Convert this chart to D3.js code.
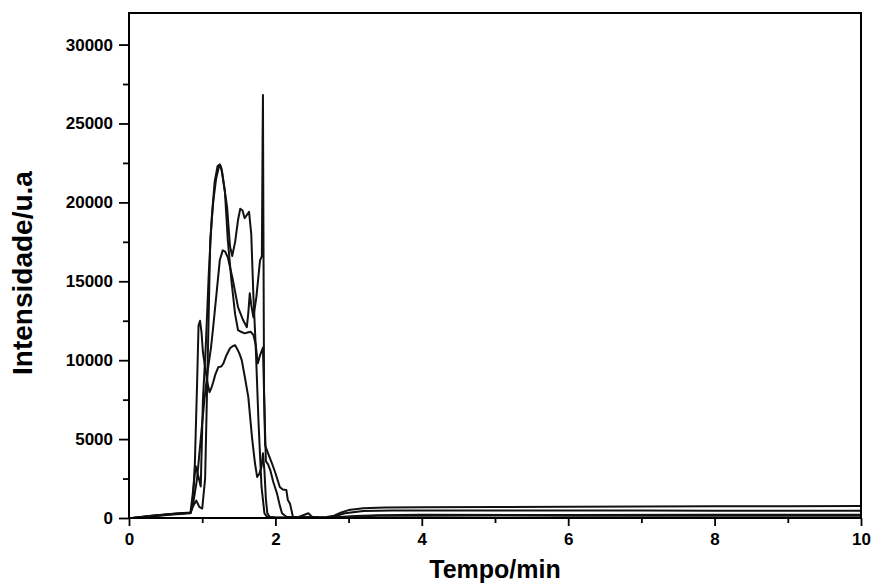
<!DOCTYPE html>
<html>
<head>
<meta charset="utf-8">
<script src="https://cdn.jsdelivr.net/npm/d3@7"></script>
<style>
  html, body { margin: 0; padding: 0; background: #fff; }
  svg { display: block; }
  text { font-family: "Liberation Sans", Arial, sans-serif; fill: #000; }
</style>
</head>
<body>
<script>
// Chromatogram traces: retention time (min) and intensity (a.u.)
const trace1Time = [0.05, 0.3, 0.6, 0.84, 0.88, 0.92, 0.96, 1.0, 1.04, 1.08, 1.11, 1.15, 1.19, 1.22, 1.24, 1.26, 1.30, 1.34, 1.38, 1.41, 1.45, 1.49, 1.52, 1.55, 1.58, 1.61, 1.64, 1.67, 1.70, 1.73, 1.77, 1.81, 1.85, 1.88, 1.95, 2.1, 2.3, 2.45, 2.6, 2.75, 2.9, 3.1, 3.4, 4, 6, 8, 10];
const trace1Value = [0, 120, 250, 330, 800, 1100, 700, 600, 2500, 11000, 17600, 20000, 21500, 22100, 22400, 22200, 21000, 19700, 17200, 16600, 17500, 18900, 19600, 19500, 19000, 19200, 19400, 18000, 14000, 11000, 6000, 2000, 300, 100, 50, 30, 20, 60, 30, 20, 60, 120, 180, 200, 190, 200, 210];

const trace2Time = [0.05, 0.3, 0.6, 0.84, 0.87, 0.91, 0.95, 0.98, 1.01, 1.05, 1.09, 1.13, 1.17, 1.21, 1.24, 1.27, 1.31, 1.35, 1.40, 1.45, 1.49, 1.53, 1.58, 1.62, 1.66, 1.70, 1.73, 1.76, 1.79, 1.83, 1.85, 1.87, 1.90, 1.93, 1.97, 2.02, 2.06, 2.09, 2.15, 2.3, 2.5, 2.7, 2.8, 2.95, 3.2, 3.6, 4, 5, 6, 7, 8, 9, 10];
const trace2Value = [0, 140, 270, 350, 1500, 3300, 2600, 2000, 7500, 11000, 15500, 19000, 21300, 22300, 22400, 22000, 20700, 17600, 15000, 12900, 11900, 11800, 11700, 11750, 11800, 11600, 11000, 9800, 10300, 10800, 7000, 3600, 3400, 3040, 2300, 1580, 800, 300, 80, 40, 20, 30, 100, 300, 450, 470, 480, 470, 480, 470, 460, 460, 460];

const trace3Time = [0.05, 0.3, 0.6, 0.84, 0.88, 0.93, 0.98, 1.03, 1.08, 1.12, 1.15, 1.2, 1.24, 1.28, 1.31, 1.35, 1.42, 1.49, 1.56, 1.61, 1.63, 1.65, 1.67, 1.70, 1.74, 1.79, 1.815, 1.825, 1.83, 1.835, 1.845, 1.86, 1.9, 1.95, 2.0, 2.06, 2.1, 2.15, 2.17, 2.2, 2.24, 2.3, 2.45, 2.5, 2.6, 2.7, 2.8, 2.9, 3.0, 3.2, 3.5, 4, 5, 6, 7, 8, 9, 10];
const trace3Value = [0, 100, 220, 300, 1000, 2500, 5000, 7500, 9500, 10800, 12090, 14430, 16330, 16960, 16900, 16520, 15060, 13350, 12530, 12090, 13000, 14240, 13500, 12720, 14000, 16330, 16600, 24000, 26800, 20000, 8000, 4600, 4100, 3500, 2850, 1960, 1800, 1770, 1140, 900, 60, 30, 300, 80, 40, 60, 150, 350, 500, 620, 660, 680, 700, 720, 730, 740, 750, 760];

const trace4Time = [0.05, 0.3, 0.6, 0.84, 0.87, 0.9, 0.93, 0.95, 0.97, 0.99, 1.01, 1.04, 1.07, 1.1, 1.13, 1.15, 1.18, 1.22, 1.26, 1.29, 1.33, 1.38, 1.42, 1.45, 1.48, 1.51, 1.54, 1.58, 1.63, 1.68, 1.72, 1.75, 1.78, 1.81, 1.83, 1.85, 1.87, 1.89, 1.92, 2.0, 2.2, 2.4, 2.6, 2.75, 2.9, 3.1, 3.4, 4, 5, 6, 7, 8, 9, 10];
const trace4Value = [0, 130, 260, 340, 800, 3500, 8500, 12200, 12500, 11800, 10500, 9560, 8600, 7970, 8300, 8600, 9100, 9560, 9600, 9800, 10300, 10760, 10900, 10950, 10700, 10400, 10000, 9000, 7660, 5130, 3500, 2600, 2800, 3230, 4100, 3000, 1200, 300, 80, 30, 20, 40, 20, 20, 60, 100, 140, 150, 160, 150, 150, 140, 150, 150];

const xMajorTicks = [0, 2, 4, 6, 8, 10];
const xMinorTicks = [1, 3, 5, 7, 9];
const yMajorTicks = [0, 5000, 10000, 15000, 20000, 25000, 30000];
const yMinorTicks = [2500, 7500, 12500, 17500, 22500, 27500];

const xTitle = "Tempo/min";
const yTitle = "Intensidade/u.a";

const traces = [
  { time: trace1Time, value: trace1Value },
  { time: trace2Time, value: trace2Value },
  { time: trace3Time, value: trace3Value },
  { time: trace4Time, value: trace4Value }
];

const W = 874, H = 585;
const plot = { left: 129, right: 861, top: 13, bottom: 518 };

const svg = d3.select("body").append("svg")
  .attr("width", W).attr("height", H);

const x = d3.scaleLinear().domain([0, 10]).range([plot.left, plot.right]);
const y = d3.scaleLinear().domain([0, 32000]).range([plot.bottom, plot.top]);

svg.append("defs").append("clipPath").attr("id", "plot-clip")
  .append("rect")
  .attr("x", plot.left).attr("y", plot.top)
  .attr("width", plot.right - plot.left).attr("height", plot.bottom - plot.top);

// traces
const line = d3.line()
  .x(d => x(d[0]))
  .y(d => y(d[1]));

svg.append("g").attr("clip-path", "url(#plot-clip)")
  .selectAll("path")
  .data(traces)
  .join("path")
  .attr("d", t => line(t.time.map((tm, i) => [tm, t.value[i]])))
  .attr("fill", "none")
  .attr("stroke", "#111")
  .attr("stroke-width", 2)
  .attr("stroke-linejoin", "round");

// axes
function styleAxis(g) {
  g.select(".domain").remove();
  g.selectAll(".tick line").attr("stroke", "#000").attr("stroke-width", 1.8);
  g.selectAll(".tick text")
    .attr("font-size", 17).attr("font-weight", "bold")
    .attr("font-family", "'Liberation Sans', Arial, sans-serif");
}

svg.append("g")
  .attr("transform", `translate(0,${plot.bottom})`)
  .call(d3.axisBottom(x).tickValues(xMajorTicks).tickSize(8).tickPadding(7).tickFormat(d3.format("d")))
  .call(styleAxis);

svg.append("g")
  .attr("transform", `translate(0,${plot.bottom})`)
  .call(d3.axisBottom(x).tickValues(xMinorTicks).tickSize(5).tickFormat(""))
  .call(styleAxis);

svg.append("g")
  .attr("transform", `translate(${plot.left},0)`)
  .call(d3.axisLeft(y).tickValues(yMajorTicks).tickSize(10).tickPadding(6).tickFormat(d3.format("d")))
  .call(styleAxis);

svg.append("g")
  .attr("transform", `translate(${plot.left},0)`)
  .call(d3.axisLeft(y).tickValues(yMinorTicks).tickSize(6).tickFormat(""))
  .call(styleAxis);

// frame
svg.append("rect")
  .attr("x", plot.left).attr("y", plot.top)
  .attr("width", plot.right - plot.left).attr("height", plot.bottom - plot.top)
  .attr("fill", "none").attr("stroke", "#000").attr("stroke-width", 2);

// titles
svg.append("text")
  .attr("x", 495)
  .attr("y", 578)
  .attr("text-anchor", "middle")
  .attr("font-size", 25).attr("font-weight", "bold")
  .text(xTitle);

svg.append("text")
  .attr("transform", `translate(32,273) rotate(-90)`)
  .attr("text-anchor", "middle")
  .attr("font-size", 28).attr("font-weight", "bold")
  .text(yTitle);
</script>
</body>
</html>
